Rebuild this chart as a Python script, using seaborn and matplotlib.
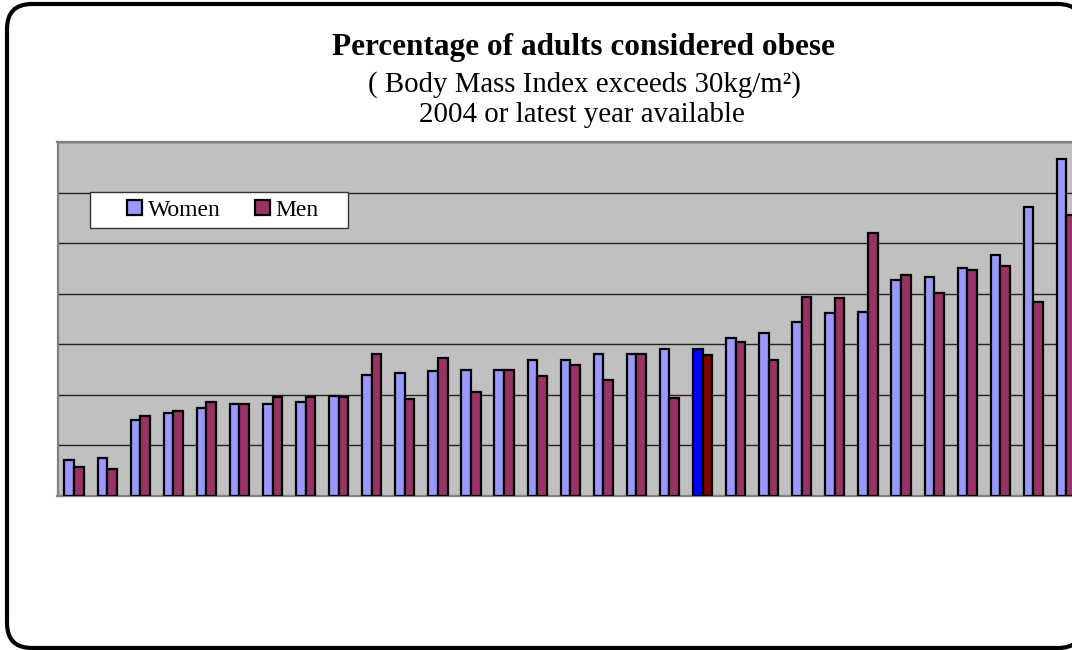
import matplotlib
matplotlib.use("Agg")
import matplotlib.pyplot as plt
from matplotlib.patches import FancyBboxPatch, Rectangle
import pandas as pd
import seaborn as sns

# Obesity rates (% of adults, BMI > 30), countries ranked by the women's rate
rank = list(range(1, 32))
women = [3.5, 3.7, 7.5, 8.2, 8.7, 9.1, 9.1, 9.3, 9.9, 12.0, 12.1, 12.3, 12.4,
         12.4, 13.4, 13.4, 14.0, 14.0, 14.5, 14.5, 15.6, 16.1, 17.2, 18.1,
         18.2, 21.4, 21.7, 22.5, 23.8, 28.6, 33.3]
men = [2.8, 2.6, 7.9, 8.4, 9.3, 9.1, 9.8, 9.8, 9.8, 14.0, 9.6, 13.6, 10.3,
       12.4, 11.9, 12.9, 11.5, 14.0, 9.7, 13.9, 15.2, 13.4, 19.7, 19.6,
       26.0, 21.9, 20.1, 22.3, 22.7, 19.2, 27.8]
sexes = ["Women", "Men"]
average_rank = 20  # the OECD-average pair, drawn in stronger colours

title = "Percentage of adults considered obese"
subtitle = "( Body Mass Index exceeds 30kg/m\u00b2)"
subtitle2 = "2004 or latest year available"

df = pd.DataFrame({
    "rank": rank * 2,
    "sex": [sexes[0]] * len(rank) + [sexes[1]] * len(rank),
    "pct": women + men,
})

palette = {"Women": "#9999FF", "Men": "#993366"}
highlight = {"Women": "#0000FF", "Men": "#800000"}

plt.rcParams["savefig.bbox"] = None

W, H, DPI = 1072, 650, 100
fig = plt.figure(figsize=(W / DPI, H / DPI), dpi=DPI)
fig.patch.set_facecolor("white")

# plot area in pixels (it runs past the right edge of the sheet)
left_px, right_px, top_px, base_px = 57.5, 1083.0, 142.2, 495.7
ax = fig.add_axes([left_px / W, 1 - base_px / H,
                   (right_px - left_px) / W, (base_px - top_px) / H])

sns.barplot(data=df, x="rank", y="pct", hue="sex", hue_order=sexes,
            palette=palette, width=0.58, edgecolor="black", linewidth=1.6,
            saturation=1, ax=ax, zorder=3)

# stronger colours for the average pair
idx = rank.index(average_rank)
for cont, sex in zip(ax.containers, sexes):
    cont[idx].set_facecolor(highlight[sex])

ax.set_xlim(-0.5, len(rank) - 0.5)
ax.set_ylim(0, 35)
ax.set_yticks(range(0, 36, 5))
ax.set_facecolor("#C0C0C0")
ax.grid(axis="y", color="#222222", linewidth=1.0, zorder=0)
ax.grid(axis="x", visible=False)
ax.set_axisbelow(True)
ax.tick_params(left=False, bottom=False, labelleft=False, labelbottom=False)
ax.set_xlabel("")
ax.set_ylabel("")
for side in ("left", "top", "bottom"):
    ax.spines[side].set_color("#808080")
    ax.spines[side].set_linewidth(1.6)
ax.spines["right"].set_visible(False)

# legend: white box with the two swatches centred inside
def to_axes(px, py):
    return ((px - left_px) / (right_px - left_px),
            (base_px - py) / (base_px - top_px))

bx0, by0 = to_axes(90, 227.7)
bx1, by1 = to_axes(348, 192.3)
ax.add_patch(Rectangle((bx0, by0), bx1 - bx0, by1 - by0, transform=ax.transAxes,
                       facecolor="white", edgecolor="#333333", linewidth=1.0,
                       zorder=5))
cx, cy = to_axes(223, 210)
sns.move_legend(ax, loc="center", bbox_to_anchor=(cx, cy), ncol=2,
                frameon=False, title=None,
                prop={"family": "Liberation Serif", "size": 17},
                handlelength=0.62, handleheight=0.62, handletextpad=0.25,
                columnspacing=1.45)
leg = ax.get_legend()
leg.set_zorder(6)
for h, sex in zip(leg.legend_handles, sexes):
    h.set_facecolor(palette[sex])
    h.set_edgecolor("black")
    h.set_linewidth(1.6)

# titles
serif = "Liberation Serif"
fig.text(583 / W, 1 - 55 / H, title, ha="center", va="baseline",
         family=serif, weight="bold", size=22.5)
fig.text(584 / W, 1 - 91.5 / H, subtitle, ha="center", va="baseline",
         family=serif, size=20.8)
fig.text(582 / W, 1 - 121.5 / H, subtitle2, ha="center", va="baseline",
         family=serif, size=20.8)

# rounded outer frame of the chart, its right side runs off the sheet.
# It is filled white and drawn beneath everything else, so the outline is
# rasterised whole instead of being cut into a straight edge at the border.
x0_px, y0_px, x1_px, y1_px = 7, 4, 1083, 648
frame = FancyBboxPatch((x0_px / DPI, (H - y1_px) / DPI),
                       (x1_px - x0_px) / DPI, (y1_px - y0_px) / DPI,
                       boxstyle="round,pad=0,rounding_size=0.25",
                       transform=fig.dpi_scale_trans, facecolor="white",
                       edgecolor="black", linewidth=3.0, zorder=-1)
fig.add_artist(frame)

fig.savefig("out.png", dpi=DPI, bbox_inches=None)
